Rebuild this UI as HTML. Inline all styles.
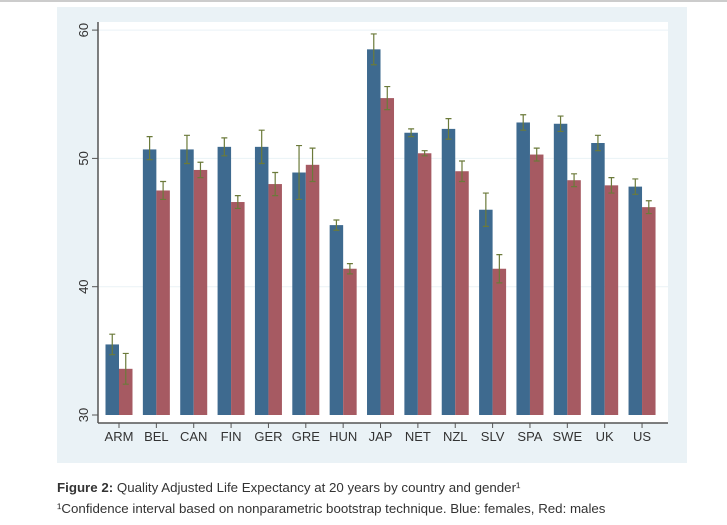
<!DOCTYPE html>
<html><head><meta charset="utf-8"><style>
body{margin:0;background:#fff;width:727px;height:525px;overflow:hidden;font-family:"Liberation Sans",sans-serif}
</style></head><body>
<svg width="727" height="525" style="position:absolute;left:0;top:0">
<line x1="0" y1="1" x2="727" y2="1" stroke="#ccc" stroke-width="2"/>
<rect x="57" y="7" width="630" height="456" fill="#eaf2f6"/>
<rect x="98" y="22" width="570" height="401" fill="#fff"/>
<g id="grid"></g><g id="bars"></g><g id="axes"></g>
<text x="57" y="492" font-size="13.3" fill="#333"><tspan font-weight="bold">Figure 2:</tspan> Quality Adjusted Life Expectancy at 20 years by country and gender¹</text>
<text x="57" y="513" font-size="13.3" fill="#333">¹Confidence interval based on nonparametric bootstrap technique. Blue: females, Red: males</text>
</svg>
<script>
const categories=["ARM","BEL","CAN","FIN","GER","GRE","HUN","JAP","NET","NZL","SLV","SPA","SWE","UK","US"];
const females=[35.5,50.7,50.7,50.9,50.9,48.9,44.8,58.5,52.0,52.3,46.0,52.8,52.7,51.2,47.8];
const femalesHi=[36.3,51.7,51.8,51.6,52.2,51.0,45.2,59.7,52.3,53.1,47.3,53.4,53.3,51.8,48.4];
const femalesLo=[34.7,49.9,49.6,50.2,49.6,46.8,44.4,57.3,51.7,51.5,44.7,52.2,52.1,50.6,47.2];
const males=[33.6,47.5,49.1,46.6,48.0,49.5,41.4,54.7,50.4,49.0,41.4,50.3,48.3,47.9,46.2];
const malesHi=[34.8,48.2,49.7,47.1,48.9,50.8,41.8,55.6,50.6,49.8,42.5,50.8,48.8,48.5,46.7];
const malesLo=[32.4,46.8,48.5,46.1,47.1,48.2,41.0,53.8,50.2,48.2,40.3,49.8,47.8,47.3,45.7];
const yTicks=[30,40,50,60];
const NS="http://www.w3.org/2000/svg";
const y=v=>415-(v-30)*12.83;
const x=i=>119+i*37.36;
function mk(p,t,a){const e=document.createElementNS(NS,t);for(const k in a)e.setAttribute(k,a[k]);p.appendChild(e);return e;}
const G=document.getElementById('grid'),B=document.getElementById('bars'),A=document.getElementById('axes');
yTicks.forEach(t=>{
 if(t>30){const g=mk(G,'line',{x1:98,x2:668,y1:y(t),y2:y(t),stroke:'#eaf2f6','stroke-width':1});
 
 }
 const tk=mk(A,'line',{x1:92,x2:98,y1:y(t),y2:y(t),stroke:'#555'});
 
 
 const tx=mk(A,'text',{x:0,y:0,transform:`translate(88,${y(t)}) rotate(-90)`,'text-anchor':'middle','font-size':13,fill:'#333'});
 tx.textContent=t;
 
 
});
const ya=mk(A,'line',{x1:98,x2:98,y1:22,y2:423,stroke:'#555','stroke-width':1.5});


const xa=mk(A,'line',{x1:98,x2:668,y1:423,y2:423,stroke:'#555','stroke-width':1.5});


function err(i,cx,hi,lo,name){
 const e=mk(B,'path',{d:`M${cx},${y(hi)}V${y(lo)}M${cx-3},${y(hi)}H${cx+3}M${cx-3},${y(lo)}H${cx+3}`,stroke:'#6b7a3a','stroke-width':1.2,fill:'none'});
 
 
}
categories.forEach((c,i)=>{
 const cx=x(i);
 const b=mk(B,'rect',{x:cx-13.5,y:y(females[i]),width:13.5,height:y(30)-y(females[i]),fill:'#3e6a8f'});
 
 
 const r=mk(B,'rect',{x:cx,y:y(males[i]),width:13.5,height:y(30)-y(males[i]),fill:'#a65a62'});
 
 
 err(i,cx-6.75,femalesHi[i],femalesLo[i],'error-bar-female-'+c.toLowerCase());
 err(i,cx+6.75,malesHi[i],malesLo[i],'error-bar-male-'+c.toLowerCase());
 const tk=mk(A,'line',{x1:cx,x2:cx,y1:423,y2:428,stroke:'#555'});
 
 
 const t=mk(A,'text',{x:cx,y:441,'text-anchor':'middle','font-size':13,fill:'#333'});
 t.textContent=c;
 
 
});
</script>
</body></html>
